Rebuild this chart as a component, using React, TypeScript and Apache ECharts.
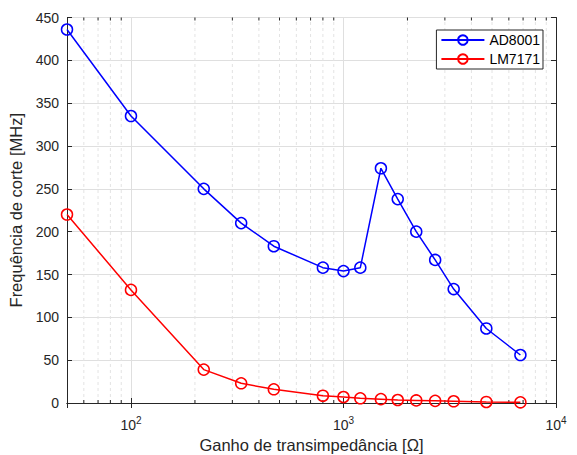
import React, { useEffect, useRef } from "react";
import * as echarts from "echarts";

const gains = [50, 100, 220, 330, 470, 800, 1000, 1200, 1500, 1800, 2200, 2700, 3300, 4700, 6800];
const ad8001 = [436, 335, 250, 210, 183, 158, 154, 158, 274, 238, 200, 167, 133, 87, 56];
const lm7171 = [220, 132, 39, 23, 16, 8.5, 7, 5.5, 4.5, 3.5, 3, 2.5, 2, 1.2, 0.8];
const minorX = [60, 70, 80, 90, 200, 300, 400, 500, 600, 700, 800, 900, 2000, 3000, 4000, 5000, 6000, 7000, 8000, 9000];
const seriesNames = ["AD8001", "LM7171"];

const FONT = "'Liberation Sans', Arial, sans-serif";
const AX = "#262626";
const GRID = "#dfdfdf";

export default function App() {
  const ref = useRef<HTMLDivElement>(null);
  useEffect(() => {
    if (!ref.current) return;
    const chart = echarts.init(ref.current, null, { renderer: "svg" });
    const xLabel = (v: number) => {
      const e = Math.round(Math.log10(v));
      if (Math.abs(Math.pow(10, e) - v) / v < 1e-6) return `{b|10}{s|${e}}`;
      return "";
    };
    const yAxisBase = {
      type: "value",
      min: 0,
      max: 450,
      interval: 50,
      axisLine: { show: true, lineStyle: { color: AX, width: 1 } },
      axisTick: { show: true, inside: true, length: 5, lineStyle: { color: AX } },
    };
    const xAxisBase = {
      type: "log",
      logBase: 10,
      min: 50,
      max: 10000,
      axisLine: { show: true, lineStyle: { color: AX, width: 1 } },
      axisTick: { show: true, inside: true, length: 5, lineStyle: { color: AX } },
    };
    chart.setOption({
      animation: false,
      backgroundColor: "#fff",
      grid: { left: 67, right: 21, top: 17.5, bottom: 52, containLabel: false, outerBoundsMode: "none" },
      legend: {
        data: seriesNames,
        orient: "vertical",
        right: 34,
        top: 30,
        itemWidth: 43,
        itemHeight: 12,
        itemGap: 5,
        padding: [3, 3, 3, 4],
        borderColor: AX,
        borderWidth: 1,
        backgroundColor: "#fff",
        textStyle: { fontFamily: FONT, fontSize: 14, color: "#000" },
      },
      xAxis: [
        {
          ...xAxisBase,
          position: "bottom",
          name: "Ganho de transimpedância [Ω]",
          nameLocation: "middle",
          nameGap: 31,
          nameTextStyle: { fontFamily: FONT, fontSize: 16.5, color: AX },
          axisLabel: {
            formatter: xLabel,
            margin: 12,
            rich: {
              b: { fontFamily: FONT, fontSize: 14, color: AX },
              s: { fontFamily: FONT, fontSize: 10, color: AX, verticalAlign: "top", padding: [0, 0, 10, 0] },
            },
          },
          splitLine: { show: true, lineStyle: { color: GRID, width: 1 } },
        },
        {
          ...xAxisBase,
          position: "top",
          axisLabel: { show: false },
          splitLine: { show: false },
        },
      ],
      yAxis: [
        {
          ...yAxisBase,
          position: "left",
          name: "Frequência de corte [MHz]",
          nameLocation: "middle",
          nameGap: 36,
          nameTextStyle: { fontFamily: FONT, fontSize: 16.5, color: AX },
          axisLabel: { fontFamily: FONT, fontSize: 14, color: AX, margin: 8 },
          splitLine: { show: true, lineStyle: { color: GRID, width: 1 } },
        },
        {
          ...yAxisBase,
          position: "right",
          axisLabel: { show: false },
          splitLine: { show: false },
        },
      ],
      series: [
        {
          type: "custom",
          name: "minor",
          silent: true,
          z: 0,
          xAxisIndex: 0,
          yAxisIndex: 0,
          data: minorX.map((v) => [v, 0]),
          renderItem: (params: any, api: any) => {
            const x = api.value(0);
            const p0 = api.coord([x, 0]);
            const p1 = api.coord([x, 450]);
            return {
              type: "group",
              children: [
                {
                  type: "line",
                  shape: { x1: p0[0], y1: p0[1], x2: p1[0], y2: p1[1] },
                  style: { stroke: "#e3e3e3", lineWidth: 1, lineDash: [3, 3] },
                },
                {
                  type: "line",
                  shape: { x1: p0[0], y1: p0[1], x2: p0[0], y2: p0[1] - 3 },
                  style: { stroke: AX, lineWidth: 1 },
                },
                {
                  type: "line",
                  shape: { x1: p1[0], y1: p1[1], x2: p1[0], y2: p1[1] + 3 },
                  style: { stroke: AX, lineWidth: 1 },
                },
              ],
            };
          },
        },
        {
          type: "line",
          name: seriesNames[0],
          data: gains.map((g, i) => [g, ad8001[i]]),
          color: "#0000ff",
          lineStyle: { width: 1.5, color: "#0000ff" },
          symbol: "circle",
          symbolSize: 11,
          itemStyle: { color: "rgba(0,0,0,0)", borderColor: "#0000ff", borderWidth: 1.5 },
          z: 3,
        },
        {
          type: "line",
          name: seriesNames[1],
          data: gains.map((g, i) => [g, lm7171[i]]),
          color: "#ff0000",
          lineStyle: { width: 1.5, color: "#ff0000" },
          symbol: "circle",
          symbolSize: 11,
          itemStyle: { color: "rgba(0,0,0,0)", borderColor: "#ff0000", borderWidth: 1.5 },
          z: 3,
        },
      ],
    });
    return () => chart.dispose();
  }, []);
  return <div ref={ref} style={{ width: 577, height: 455, position: "absolute", left: 0, top: 0 }} />;
}
